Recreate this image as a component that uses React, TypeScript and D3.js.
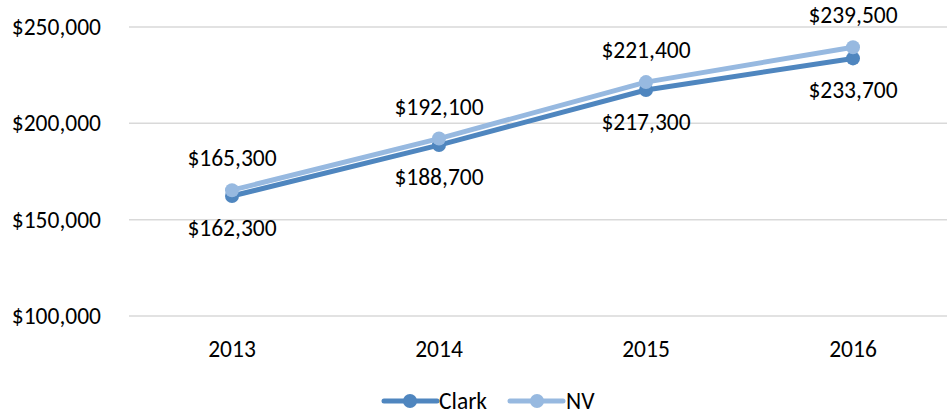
import React from "react";
import * as d3 from "d3";

const years = ["2013", "2014", "2015", "2016"];
const clark = [162300, 188700, 217300, 233700];
const nv = [165300, 192100, 221400, 239500];
const yTicks = [100000, 150000, 200000, 250000];

const W = 947, H = 414;
const FONT = "Carlito, Calibri, 'Open Sans', sans-serif";
const FS = 23.5;
const C_CLARK = "#4f86bf";
const C_NV = "#97b9e0";

export default function App() {
  const x = d3.scalePoint<string>().domain(years).range([232, 853]);
  const y = d3.scaleLinear().domain([100000, 250000]).range([316, 27]);
  const fmt = (v: number) => "$" + d3.format(",")(v);
  const line = d3.line<number>().x((_, i) => x(years[i])!).y((d) => y(d));

  const series = [
    { name: "Clark", data: clark, color: C_CLARK, dy: 40 },
    { name: "NV", data: nv, color: C_NV, dy: -24 },
  ];

  return (
    <svg width={W} height={H} style={{ position: "absolute", left: 0, top: 0, background: "#fff" }} fontFamily={FONT}>
      {yTicks.map((t) => (
        <g key={t}>
          <line x1={129} x2={W} y1={y(t)} y2={y(t)} stroke="#d9d9d9" strokeWidth={1.5} />
          <text x={101} y={y(t) + 8} textAnchor="end" fontSize={FS} fill="#000">{fmt(t)}</text>
        </g>
      ))}
      {years.map((yr) => (
        <text key={yr} x={x(yr)} y={357} textAnchor="middle" fontSize={FS} fill="#000">{yr}</text>
      ))}
      {series.map((s) => (
        <g key={s.name}>
          <path d={line(s.data)!} fill="none" stroke={s.color} strokeWidth={5} strokeLinejoin="round" strokeLinecap="round" />
          {s.data.map((v, i) => (
            <circle key={i} cx={x(years[i])} cy={y(v)} r={7} fill={s.color} />
          ))}
        </g>
      ))}
      {series.map((s) => (
        <g key={s.name + "l"}>
          {s.data.map((v, i) => (
            <text key={i} x={x(years[i])} y={y(v) + s.dy} textAnchor="middle" fontSize={FS} fill="#000">{fmt(v)}</text>
          ))}
        </g>
      ))}
      {/* legend */}
      <g>
        <line x1={384} x2={437} y1={401} y2={401} stroke={C_CLARK} strokeWidth={5} strokeLinecap="round" />
        <circle cx={410} cy={401} r={7} fill={C_CLARK} />
        <text x={439} y={409} fontSize={FS} fill="#000">Clark</text>
        <line x1={510} x2={563} y1={401} y2={401} stroke={C_NV} strokeWidth={5} strokeLinecap="round" />
        <circle cx={537} cy={401} r={7} fill={C_NV} />
        <text x={566} y={409} fontSize={FS} fill="#000">NV</text>
      </g>
    </svg>
  );
}
